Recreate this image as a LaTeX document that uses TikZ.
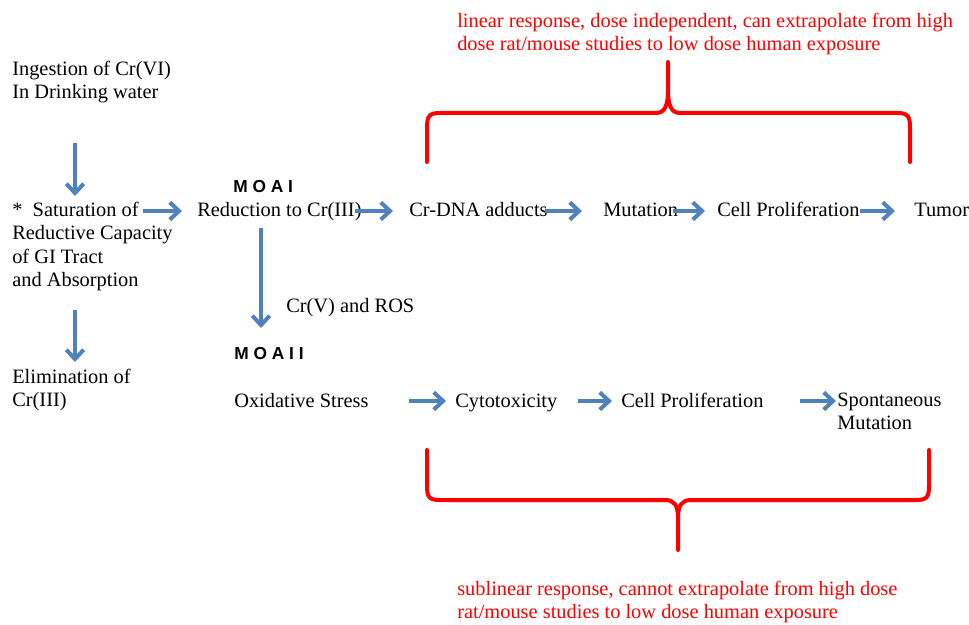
\documentclass[tikz,border=0pt]{standalone}
\usepackage{fontspec}
\setmainfont{Liberation Serif}
\newfontfamily\moasans{Liberation Sans}
\usetikzlibrary{arrows.meta}
\definecolor{flowblue}{RGB}{79,129,189}
\definecolor{notered}{RGB}{255,0,0}
\tikzset{every picture/.style={x=0.75pt, y=-0.75pt}}
\tikzset{lbl/.style={inner sep=0pt, font=\fontsize{15.3}{17.4}\selectfont}}
\tikzset{block/.style={lbl, align=left, anchor=north west}}
\tikzset{note/.style={block, text=notered}}
\tikzset{moa/.style={inner sep=0pt, anchor=base west, font=\moasans\bfseries\fontsize{13}{15}\selectfont}}
\tikzset{flow/.style={flowblue, line width=3pt, -{Straight Barb[length=7pt,width=13pt]}}}
\tikzset{brace/.style={notered, line width=3pt, line cap=round, line join=round}}

\begin{document}
\begin{tikzpicture}
\useasboundingbox (0,0) rectangle (969,624);

\node[block] (ingest) at (12,61) {Ingestion of Cr(VI)\\In Drinking water};
\node[block] (satur) at (12,202) {*\ \ Saturation of\\Reductive Capacity\\of GI Tract\\and Absorption};
\node[block] (elim) at (12,369) {Elimination of\\Cr(III)};

\node[moa] (moa1) at (233,192) {M O A I};
\node[lbl, anchor=base west] (reduc) at (197,216) {Reduction to Cr(III)};
\node[lbl, anchor=base west] (crdna) at (409,216) {Cr-DNA adducts};
\node[lbl, anchor=base west] (mutation) at (603,216) {Mutation};
\node[lbl, anchor=base west] (cellp) at (717,216) {Cell Proliferation};
\node[lbl, anchor=base west] (tumor) at (914,216) {Tumor};

\node[lbl, anchor=base west] (cr5) at (286,312) {Cr(V) and ROS};
\node[moa] (moa2) at (234,359) {M O A I I};

\node[lbl, anchor=base west] (oxid) at (234,407) {Oxidative Stress};
\node[lbl, anchor=base west] (cyto) at (455,407) {Cytotoxicity};
\node[lbl, anchor=base west] (cellp2) at (621,407) {Cell Proliferation};
\node[block] (spont) at (837,393) {Spontaneous\\Mutation};

\node[note] (linresp) at (457,13) {linear response, dose independent, can extrapolate from high\\dose rat/mouse studies to low dose human exposure};
\node[note] (sublin) at (457,581) {sublinear response, cannot extrapolate from high dose\\rat/mouse studies to low dose human exposure};

\draw[flow] ([shift={(63,40)}]ingest.south west) -- ([shift={(63,-6)}]satur.north west);
\draw[flow] ([shift={(131,9)}]satur.north west) -- ([shift={(-15,-5)}]reduc.base west);
\draw[flow] ([shift={(63,19)}]satur.south west) -- ([shift={(63,-7)}]elim.north west);
\draw[flow] ([shift={(-7,-5)}]reduc.base east) -- ([shift={(-16,-5)}]crdna.base west);
\draw[flow] ([shift={(64,12)}]reduc.base west) -- ([shift={(27,-31)}]moa2.base west);
\draw[flow] ([shift={(-3,-5)}]crdna.base east) -- ([shift={(-21,-5)}]mutation.base west);
\draw[flow] ([shift={(-5,-5)}]mutation.base east) -- ([shift={(-12,-5)}]cellp.base west);
\draw[flow] ([shift={(0,-5)}]cellp.base east) -- ([shift={(-19,-5)}]tumor.base west);
\draw[flow] ([shift={(40,-6)}]oxid.base east) -- ([shift={(-9,-6)}]cyto.base west);
\draw[flow] ([shift={(20,-6)}]cyto.base east) -- ([shift={(-9,-6)}]cellp2.base west);
\draw[flow] ([shift={(36,-6)}]cellp2.base east) -- ([shift={(-1,8)}]spont.north west);

\draw[brace] (427,162) -- (427,128) .. controls (427,116) and (429,113) .. (440,113) -- (656,113)
  .. controls (665,113) and (668,105) .. (668,90) -- (668,62) -- (668,90)
  .. controls (668,105) and (671,113) .. (680,113) -- (897,113)
  .. controls (908,113) and (910,116) .. (910,128) -- (910,162);
\draw[brace] (427,450) -- (427,486) .. controls (427,497) and (429,500) .. (440,500) -- (665,500)
  .. controls (674,500) and (678,505) .. (678,518) -- (678,550) -- (678,518)
  .. controls (678,505) and (682,500) .. (691,500) -- (916,500)
  .. controls (927,500) and (929,497) .. (929,486) -- (929,450);
\end{tikzpicture}
\end{document}
